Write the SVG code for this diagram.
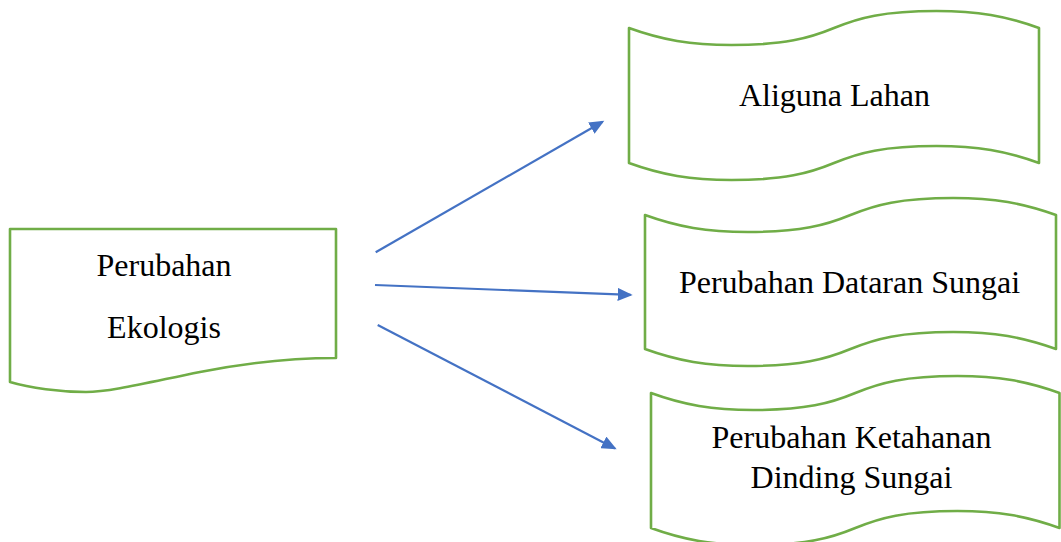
<svg xmlns="http://www.w3.org/2000/svg" width="1061" height="542" viewBox="0 0 1061 542">
<style>
.shape{fill:#ffffff;stroke:#70AD47;stroke-width:2.6;stroke-linejoin:round}
.conn{stroke:#4472C4;stroke-width:2.2;fill:none}
.lbl{font-family:"Liberation Serif","Times New Roman",serif;font-size:32px;fill:#000000;text-anchor:middle}
</style>
<defs>
<marker id="arr" markerUnits="userSpaceOnUse" markerWidth="16" markerHeight="13" refX="13" refY="6.5" orient="auto">
<path d="M0,0 L15,6.5 L0,13 Z" fill="#4472C4"/>
</marker>
</defs>
<rect width="1061" height="542" fill="#ffffff"/>
<g id="node-perubahan-ekologis">
<path class="shape" d="M10,229 H336 V358 C300,358 250,362 200,372 C150,382 110,392 86,392 C60,392 30,388 10,382 Z"/>
<text class="lbl" x="164" y="276">Perubahan</text>
<text class="lbl" x="164" y="338">Ekologis</text>
</g>
<g id="node-aliguna-lahan">
<path class="shape" d="M629,28 C661.8,39.9 690.5,45 731.5,45 C784.8,45 809.4,38.2 834,28 C858.6,17.8 883.2,11 936.5,11 C977.5,11 1006.2,16.1 1039,28 L1039,163 C1006.2,151.1 977.5,146 936.5,146 C883.2,146 858.6,152.8 834,163 C809.4,173.2 784.8,180 731.5,180 C690.5,180 661.8,174.9 629,163 Z"/>
<text class="lbl" x="834.5" y="106">Aliguna Lahan</text>
</g>
<g id="node-perubahan-dataran">
<path class="shape" d="M645,215 C677.9,226.9 706.7,232 747.8,232 C801.2,232 825.8,225.2 850.5,215 C875.2,204.8 899.8,198 953.3,198 C994.4,198 1023.1,203.1 1056,215 L1056,349 C1023.1,337.1 994.4,332 953.3,332 C899.8,332 875.2,338.8 850.5,349 C825.8,359.2 801.2,366 747.8,366 C706.7,366 677.9,360.9 645,349 Z"/>
<text class="lbl" x="849.5" y="293">Perubahan Dataran Sungai</text>
</g>
<g id="node-perubahan-ketahanan">
<path class="shape" d="M651,393 C683.7,404.9 712.3,410 753.1,410 C806.2,410 830.7,403.2 855.3,393 C879.8,382.8 904.3,376 957.4,376 C998.2,376 1026.8,381.1 1059.5,393 L1059.5,528 C1026.8,516.1 998.2,511 957.4,511 C904.3,511 879.8,517.8 855.3,528 C830.7,538.2 806.2,545 753.1,545 C712.3,545 683.7,539.9 651,528 Z"/>
<text class="lbl" x="851.5" y="448">Perubahan Ketahanan</text>
<text class="lbl" x="851.5" y="488">Dinding Sungai</text>
</g>
<g id="connectors">
<line class="conn" x1="375.7" y1="252.3" x2="602.6" y2="121.7" marker-end="url(#arr)"/>
<line class="conn" x1="375" y1="285" x2="630.7" y2="294.9" marker-end="url(#arr)"/>
<line class="conn" x1="377.7" y1="325" x2="614.9" y2="448.4" marker-end="url(#arr)"/>
</g>
</svg>
